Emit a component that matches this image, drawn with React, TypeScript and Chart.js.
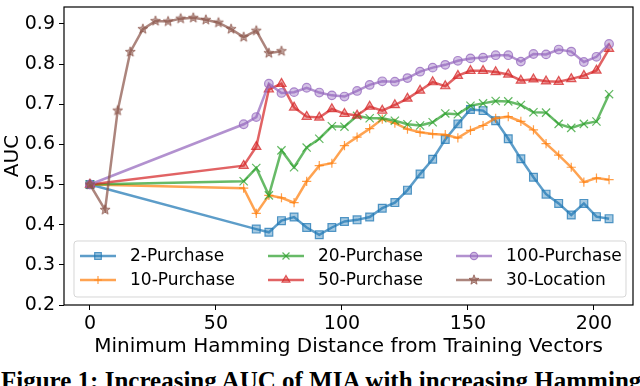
import React, { useEffect, useRef } from "react";
import { Chart, registerables } from "chart.js";
import { drawPoint } from "chart.js/helpers";

Chart.register(...registerables);

// ---------- data ----------
const xTicks = [0, 50, 100, 150, 200];
const yTicks = [0.2, 0.3, 0.4, 0.5, 0.6, 0.7, 0.8, 0.9];

const purchaseX = [0, 61, 66, 71, 76, 81, 86, 91, 96, 101, 106, 111, 116, 121, 126, 131, 136, 141, 146, 151, 156, 161, 166, 171, 176, 181, 186, 191, 196, 201, 206];
const twoPurchaseX = [0, 66, 71, 76, 81, 86, 91, 96, 101, 106, 111, 116, 121, 126, 131, 136, 141, 146, 151, 156, 161, 166, 171, 176, 181, 186, 191, 196, 201, 206];
const locationX = [0, 6, 11, 16, 21, 26, 31, 36, 41, 46, 51, 56, 61, 66, 71, 76];

const twoPurchase = [0.5, 0.389, 0.381, 0.41, 0.419, 0.393, 0.375, 0.393, 0.408, 0.412, 0.419, 0.441, 0.455, 0.486, 0.526, 0.563, 0.612, 0.651, 0.687, 0.684, 0.659, 0.614, 0.564, 0.518, 0.476, 0.453, 0.424, 0.453, 0.42, 0.415];
const tenPurchase = [0.5, 0.491, 0.428, 0.473, 0.467, 0.455, 0.508, 0.547, 0.553, 0.597, 0.618, 0.639, 0.663, 0.653, 0.638, 0.63, 0.626, 0.624, 0.616, 0.635, 0.647, 0.665, 0.669, 0.657, 0.636, 0.602, 0.573, 0.543, 0.506, 0.516, 0.512];
const twentyPurchase = [0.5, 0.508, 0.541, 0.473, 0.585, 0.543, 0.592, 0.614, 0.645, 0.644, 0.671, 0.665, 0.665, 0.659, 0.65, 0.647, 0.655, 0.677, 0.675, 0.696, 0.702, 0.708, 0.707, 0.698, 0.68, 0.679, 0.651, 0.641, 0.651, 0.657, 0.725];
const fiftyPurchase = [0.5, 0.547, 0.594, 0.737, 0.751, 0.692, 0.669, 0.667, 0.688, 0.676, 0.672, 0.694, 0.684, 0.698, 0.714, 0.734, 0.755, 0.745, 0.771, 0.783, 0.783, 0.78, 0.774, 0.759, 0.762, 0.757, 0.756, 0.763, 0.771, 0.784, 0.838];
const hundredPurchase = [0.5, 0.65, 0.668, 0.751, 0.728, 0.73, 0.741, 0.729, 0.722, 0.719, 0.733, 0.748, 0.757, 0.756, 0.765, 0.781, 0.791, 0.798, 0.808, 0.814, 0.816, 0.822, 0.822, 0.806, 0.825, 0.824, 0.836, 0.831, 0.805, 0.818, 0.85];
const thirtyLocation = [0.5, 0.437, 0.684, 0.83, 0.887, 0.907, 0.906, 0.913, 0.915, 0.91, 0.903, 0.887, 0.867, 0.883, 0.827, 0.832];

const seriesNames = ["2-Purchase", "10-Purchase", "20-Purchase", "50-Purchase", "100-Purchase", "30-Location"];

const xLabel = "Minimum Hamming Distance from Training Vectors";
const yLabel = "AUC";
const caption = "Figure 1: Increasing AUC of MIA with increasing Hamming";

// ---------- styles ----------
const baseColors: [number, number, number][] = [
  [31, 119, 180],
  [255, 127, 14],
  [44, 160, 44],
  [214, 39, 40],
  [148, 103, 189],
  [140, 86, 75],
];
const rgba = (c: [number, number, number], a: number) => `rgba(${c[0]},${c[1]},${c[2]},${a})`;

function makeStar(c: [number, number, number]) {
  const cv = document.createElement("canvas");
  cv.width = 14;
  cv.height = 14;
  const ctx = cv.getContext("2d")!;
  ctx.translate(7, 7);
  ctx.beginPath();
  for (let i = 0; i < 10; i++) {
    const r = i % 2 === 0 ? 5.2 : 2.2;
    const a = -Math.PI / 2 + (i * Math.PI) / 5;
    const px = Math.cos(a) * r;
    const py = Math.sin(a) * r;
    if (i === 0) ctx.moveTo(px, py);
    else ctx.lineTo(px, py);
  }
  ctx.closePath();
  ctx.fillStyle = rgba(c, 0.55);
  ctx.fill();
  ctx.lineWidth = 1;
  ctx.strokeStyle = rgba(c, 0.75);
  ctx.stroke();
  return cv;
}

export default function App() {
  const ref = useRef<HTMLCanvasElement | null>(null);

  useEffect(() => {
    const canvas = ref.current;
    if (!canvas) return;

    const xsList = [twoPurchaseX, purchaseX, purchaseX, purchaseX, purchaseX, locationX];
    const ysList = [twoPurchase, tenPurchase, twentyPurchase, fiftyPurchase, hundredPurchase, thirtyLocation];
    const styles: any[] = ["rect", "cross", "crossRot", "triangle", "circle", makeStar(baseColors[5])];
    const radii = [5.5, 4.6, 5.8, 5.3, 4.3, 5];

    const datasets = seriesNames.map((name, i) => ({
      label: name,
      data: xsList[i].map((x, j) => ({ x, y: ysList[i][j] })),
      borderColor: rgba(baseColors[i], 0.72),
      backgroundColor: rgba(baseColors[i], 0.45),
      borderWidth: 2.5,
      pointStyle: styles[i],
      pointRadius: radii[i],
      pointHoverRadius: radii[i],
      pointBorderWidth: 1.2,
      pointBorderColor: rgba(baseColors[i], 0.75),
      pointBackgroundColor: rgba(baseColors[i], 0.4),
      tension: 0,
      order: seriesNames.length - i,
    }));

    const framePlugin = {
      id: "frameAndLegend",
      afterDatasetsDraw(chart: any) {
        const { ctx, chartArea: ca } = chart;
        ctx.save();
        ctx.strokeStyle = "#000";
        ctx.lineWidth = 1.2;
        ctx.strokeRect(ca.left, ca.top, ca.right - ca.left, ca.bottom - ca.top);

        // legend
        const bl = ca.left + 10;
        const br = ca.right - 7;
        const bb = ca.bottom - 8;
        const bt = bb - 56;
        const rr = 3;
        ctx.beginPath();
        ctx.moveTo(bl + rr, bt);
        ctx.lineTo(br - rr, bt);
        ctx.quadraticCurveTo(br, bt, br, bt + rr);
        ctx.lineTo(br, bb - rr);
        ctx.quadraticCurveTo(br, bb, br - rr, bb);
        ctx.lineTo(bl + rr, bb);
        ctx.quadraticCurveTo(bl, bb, bl, bb - rr);
        ctx.lineTo(bl, bt + rr);
        ctx.quadraticCurveTo(bl, bt, bl + rr, bt);
        ctx.closePath();
        ctx.fillStyle = "rgba(255,255,255,0.8)";
        ctx.fill();
        ctx.strokeStyle = "rgba(204,204,204,0.8)";
        ctx.lineWidth = 1;
        ctx.stroke();

        ctx.font = "17px 'DejaVu Sans'";
        ctx.textBaseline = "middle";
        ctx.textAlign = "left";
        const colStep = 188;
        const rowY = [bt + 15, bt + 39];
        chart.data.datasets.forEach((ds: any, i: number) => {
          const col = Math.floor(i / 2);
          const row = i % 2;
          const hx = bl + 6 + col * colStep;
          const hy = rowY[row];
          ctx.strokeStyle = ds.borderColor;
          ctx.lineWidth = ds.borderWidth;
          ctx.beginPath();
          ctx.moveTo(hx, hy);
          ctx.lineTo(hx + 36, hy);
          ctx.stroke();
          ctx.fillStyle = ds.pointBackgroundColor;
          ctx.strokeStyle = ds.pointBorderColor;
          ctx.lineWidth = ds.pointBorderWidth;
          drawPoint(ctx, { pointStyle: ds.pointStyle, radius: ds.pointRadius * 0.85, borderWidth: ds.pointBorderWidth, rotation: 0 }, hx + 18, hy);
          ctx.fillStyle = "#000";
          ctx.fillText(ds.label, hx + 50, hy + 1);
        });
        ctx.restore();
      },
    };

    const chart = new Chart(canvas, {
      type: "line",
      data: { datasets },
      options: {
        animation: false,
        responsive: false,
        maintainAspectRatio: false,
        layout: { padding: { left: 0, right: 4, top: 2, bottom: 0 } },
        plugins: { legend: { display: false }, tooltip: { enabled: false } },
        scales: {
          x: {
            type: "linear",
            min: -10.3,
            max: 215.5,
            afterBuildTicks: (s: any) => {
              s.ticks = xTicks.map((v) => ({ value: v }));
            },
            afterFit: (s: any) => {
              s.height = 61;
              s.paddingLeft = 0;
              s.paddingRight = 0;
            },
            ticks: {
              color: "#000",
              padding: 3,
              font: { family: "'DejaVu Sans'", size: 19 },
              maxRotation: 0,
              autoSkip: false,
              callback: (v: any) => String(v),
            },
            grid: { display: true, drawOnChartArea: false, drawTicks: true, tickLength: 5, color: "#000", lineWidth: 1 },
            border: { display: false },
            title: {
              display: true,
              text: xLabel,
              color: "#000",
              font: { family: "'DejaVu Sans'", size: 20 },
              padding: { top: 0, bottom: 7 },
            },
          },
          y: {
            type: "linear",
            min: 0.2,
            max: 0.942,
            afterBuildTicks: (s: any) => {
              s.ticks = yTicks.map((v) => ({ value: v }));
            },
            afterFit: (s: any) => {
              s.width = 64;
              s.paddingTop = 0;
              s.paddingBottom = 0;
            },
            ticks: {
              color: "#000",
              padding: 4,
              font: { family: "'DejaVu Sans'", size: 19 },
              autoSkip: false,
              callback: (v: any) => Number(v).toFixed(1),
            },
            grid: { display: true, drawOnChartArea: false, drawTicks: true, tickLength: 5, color: "#000", lineWidth: 1 },
            border: { display: false },
            title: {
              display: true,
              text: yLabel,
              color: "#000",
              font: { family: "'DejaVu Sans'", size: 20 },
              padding: { top: 1, bottom: 0 },
            },
          },
        },
      },
      plugins: [framePlugin],
    });

    return () => chart.destroy();
  }, []);

  return (
    <div style={{ position: "fixed", left: 0, top: 0, width: 640, height: 386, overflow: "hidden", background: "#fff" }}>
      <canvas ref={ref} width={640} height={366} style={{ position: "absolute", left: 0, top: 0, width: 640, height: 366 }} />
      <div
        style={{
          position: "absolute",
          left: 1,
          top: 368,
          whiteSpace: "nowrap",
          fontFamily: "'Liberation Serif', 'Times New Roman', serif",
          fontWeight: "bold",
          fontSize: 25,
          lineHeight: "25px",
          color: "#000",
        }}
      >
        {caption}
      </div>
    </div>
  );
}
